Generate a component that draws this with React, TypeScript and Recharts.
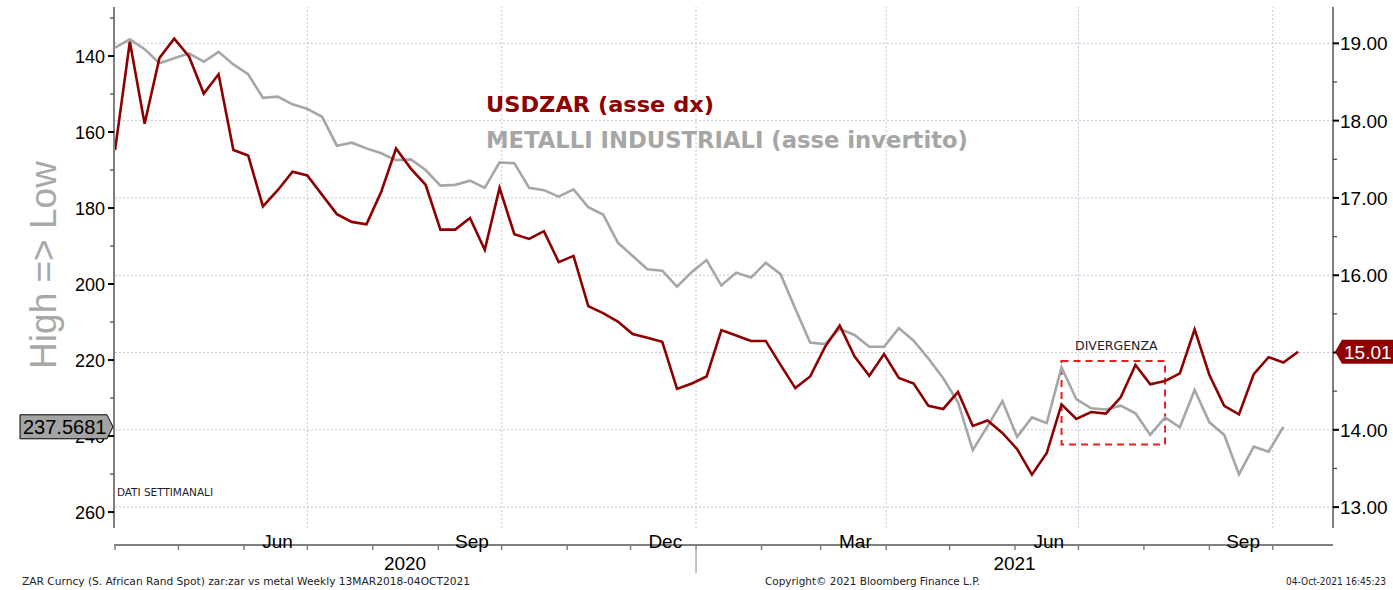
import React from "react";
import { LineChart, Line, XAxis, YAxis, ReferenceLine, ReferenceArea } from "recharts";

const DAY = 86400000;
// first weekly observation (Bloomberg weekly series)
const START = Date.UTC(2020, 3, 1) / DAY;

// USDZAR, right axis
const usdzar = [
  17.62, 19.02, 17.96, 18.81, 19.06, 18.83, 18.35, 18.6, 17.62, 17.55,
  16.89, 17.1, 17.34, 17.29, 17.04, 16.79, 16.69, 16.66, 17.08, 17.64,
  17.38, 17.17, 16.59, 16.59, 16.74, 16.33, 17.13, 16.53, 16.47, 16.57,
  16.17, 16.25, 15.6, 15.51, 15.4, 15.24, 15.19, 15.14, 14.53, 14.6,
  14.69, 15.29, 15.22, 15.15, 15.15, 14.84, 14.54, 14.69, 15.07, 15.35,
  14.95, 14.7, 14.98, 14.67, 14.6, 14.31, 14.27, 14.49, 14.05, 14.12,
  13.96, 13.75, 13.42, 13.7, 14.33, 14.14, 14.23, 14.21, 14.42, 14.84,
  14.59, 14.63, 14.73, 15.3, 14.71, 14.31, 14.2, 14.72, 14.94, 14.87,
  15.01,
];

// industrial metals index, left axis (inverted)
const metals = [
  137.8, 135.6, 138.2, 141.9, 140.6, 139.3, 141.5, 138.9, 142.2, 144.8,
  151.0, 150.7, 152.7, 153.9, 156.0, 163.6, 162.8, 164.3, 165.6, 167.4,
  167.2, 170.0, 174.1, 173.9, 172.8, 174.7, 168.0, 168.2, 174.7, 175.3,
  177.0, 175.1, 179.8, 181.7, 189.1, 192.6, 196.1, 196.5, 200.7, 196.8,
  193.7, 200.4, 197.0, 198.3, 194.4, 197.4, 206.5, 215.4, 215.8, 211.8,
  213.4, 216.5, 216.5, 211.6, 214.9, 219.6, 224.8, 231.1, 243.7, 237.4,
  230.8, 240.2, 235.1, 236.6, 221.9, 230.3, 232.7, 233.0, 232.0, 234.0,
  239.7, 235.1, 237.7, 227.9, 236.4, 239.7, 250.1, 242.8, 244.1, 237.5681,
];

const weeks = usdzar.map((_, i) => START + 7 * i);
const data = weeks.map((t, i) => ({ t, zar: usdzar[i], metal: metals[i] }));

const lastZar = usdzar[usdzar.length - 1];
const lastMetal = metals[metals.length - 1];

const X_MIN = START - 0.5;
const X_MAX = weeks[weeks.length - 1] + 16.5;

const monthStarts = Array.from({ length: 19 }, (_, i) => Date.UTC(2020, 3 + i, 1) / DAY);
const quarterStarts = monthStarts.filter(
  (t) => t > START + 1 && new Date(t * DAY).getUTCMonth() % 3 === 0
);

const monthNames = ["Jun", "Sep", "Dec", "Mar", "Jun", "Sep"];
const monthLabelYM = [
  [2020, 5], [2020, 8], [2020, 11], [2021, 2], [2021, 5], [2021, 8],
];
const monthMids = monthLabelYM.map(
  ([y, m]) => (Date.UTC(y, m, 1) + Date.UTC(y, m + 1, 1)) / 2 / DAY
);

const JAN21 = Date.UTC(2021, 0, 1) / DAY;
const yearTicks = [(X_MIN + JAN21) / 2, JAN21, (JAN21 + X_MAX) / 2];
const yearNames = ["2020", "", "2021"];

const leftTicks = [130, 140, 150, 160, 170, 180, 190, 200, 210, 220, 230, 240, 250, 260, lastMetal];
const rightTicks = [13, 13.5, 14, 14.5, 15, 15.5, 16, 16.5, 17, 17.5, 18, 18.5, 19, lastZar];
const rightGrid = [13, 14, 15, 16, 17, 18, 19];

// divergence box (week 64 -> week 71, USDZAR scale)
const divFrom = weeks[64];
const divTo = weeks[71];
const divLow = 13.81;
const divHigh = 14.89;

const RED = "#8e0000";
const GREY = "#a6a6a6";
const GRID = "#c5c9d9";
const AXIS = "#7f7f7f";
const TICK_FONT = "'Liberation Sans', Arial, sans-serif";
const SMALL_FONT = "'DejaVu Sans Condensed', 'DejaVu Sans', sans-serif";

const LeftTick = (p: any) => {
  const v = p.payload.value;
  if (v === lastMetal) {
    const y = p.y;
    return (
      <g>
        <path
          d={`M20,${y - 12} L107,${y - 12} L113,${y} L107,${y + 12} L20,${y + 12} Z`}
          fill="#a3a3a3"
          stroke="#000"
          strokeWidth={1}
        />
        <text x={23} y={y + 7} fontSize={20} fontFamily={TICK_FONT} fill="#000">
          {v.toFixed(4)}
        </text>
      </g>
    );
  }
  const major = v % 20 === 0;
  return (
    <g>
      <line x1={p.x - (major ? 6 : 4)} x2={p.x} y1={p.y} y2={p.y} stroke={major ? "#000" : "#444"} strokeWidth={major ? 2 : 1.2} />
      {major && (
        <text x={p.x - 9} y={p.y + 6.5} textAnchor="end" fontSize={18} fontFamily={TICK_FONT} fill="#000">
          {v}
        </text>
      )}
    </g>
  );
};

const RightTick = (p: any) => {
  const v = p.payload.value;
  if (v === lastZar) {
    const y = p.y;
    return (
      <g>
        <path
          d={`M${p.x + 2},${y} L${p.x + 9},${y - 12} L1393,${y - 12} L1393,${y + 12} L${p.x + 9},${y + 12} Z`}
          fill={RED}
        />
        <text x={p.x + 11} y={y + 7} fontSize={19} fontFamily={TICK_FONT} fill="#fff">
          {v.toFixed(2)}
        </text>
      </g>
    );
  }
  const major = Number.isInteger(v);
  return (
    <g>
      <line x1={p.x} x2={p.x + (major ? 6 : 4)} y1={p.y} y2={p.y} stroke={major ? "#000" : "#444"} strokeWidth={major ? 2 : 1.2} />
      {major && (
        <text x={p.x + 7} y={p.y + 7} fontSize={19} fontFamily={TICK_FONT} fill="#000">
          {v.toFixed(2)}
        </text>
      )}
    </g>
  );
};

const MonthTick = (p: any) => (
  <line x1={p.x} x2={p.x} y1={p.y} y2={p.y + 5} stroke={AXIS} strokeWidth={1.5} />
);

const LabelTick = (p: any) => (
  <text x={p.x + 2} y={p.y + 20} textAnchor="middle" fontSize={19} fontFamily={TICK_FONT} fill="#000">
    {monthNames[p.index]}
  </text>
);

const YearTick = (p: any) => {
  const name = yearNames[p.index];
  if (!name) {
    return <line x1={p.x} x2={p.x} y1={p.y - 5} y2={p.y + 20} stroke="#b0b0b0" strokeWidth={1.5} />;
  }
  return (
    <text x={p.x} y={p.y + 17} textAnchor="middle" fontSize={19} fontFamily={TICK_FONT} fill="#000">
      {name}
    </text>
  );
};

export default function App() {
  return (
    <div style={{ position: "absolute", left: 0, top: 0, width: 1393, height: 590, background: "#fff" }}>
      <LineChart width={1393} height={590} data={data} margin={{ top: 7, right: 0, left: 0, bottom: 10 }}>
        <XAxis
          xAxisId="m"
          dataKey="t"
          type="number"
          domain={[X_MIN, X_MAX]}
          allowDataOverflow
          ticks={monthStarts}
          interval={0}
          height={8}
          tickSize={0}
          tickMargin={0}
          axisLine={{ stroke: AXIS, strokeWidth: 2 }}
          tickLine={false}
          tick={<MonthTick />}
        />
        <XAxis
          xAxisId="lab"
          dataKey="t"
          type="number"
          domain={[X_MIN, X_MAX]}
          allowDataOverflow
          ticks={monthMids}
          interval={0}
          height={17}
          tickSize={0}
          tickMargin={0}
          axisLine={false}
          tickLine={false}
          tick={<LabelTick />}
        />
        <XAxis
          xAxisId="yr"
          dataKey="t"
          type="number"
          domain={[X_MIN, X_MAX]}
          allowDataOverflow
          ticks={yearTicks}
          interval={0}
          height={27}
          tickSize={0}
          tickMargin={0}
          axisLine={false}
          tickLine={false}
          tick={<YearTick />}
        />
        <YAxis
          yAxisId="l"
          orientation="left"
          width={114}
          reversed
          domain={[127.1, 264.2]}
          allowDataOverflow
          ticks={leftTicks}
          interval={0}
          tickSize={0}
          tickMargin={0}
          axisLine={{ stroke: AXIS, strokeWidth: 2 }}
          tickLine={false}
          tick={<LeftTick />}
        />
        <YAxis
          yAxisId="r"
          orientation="right"
          width={60}
          domain={[12.73, 19.47]}
          allowDataOverflow
          ticks={rightTicks}
          interval={0}
          tickSize={0}
          tickMargin={0}
          axisLine={{ stroke: AXIS, strokeWidth: 2 }}
          tickLine={false}
          tick={<RightTick />}
        />

        {rightGrid.map((v) => (
          <ReferenceLine key={"h" + v} xAxisId="m" yAxisId="r" y={v} stroke={GRID} strokeDasharray="2 2" />
        ))}
        {quarterStarts.map((t) => (
          <ReferenceLine key={"v" + t} xAxisId="m" yAxisId="r" x={t} stroke={GRID} strokeDasharray="2 2" />
        ))}

        <ReferenceArea
          xAxisId="m"
          yAxisId="r"
          x1={divFrom}
          x2={divTo}
          y1={divLow}
          y2={divHigh}
          fill="none"
          fillOpacity={0}
          stroke="#ee1c1c"
          strokeWidth={2}
          strokeDasharray="7 5"
          label={{
            value: "DIVERGENZA",
            position: "top",
            offset: 11,
            fontSize: 12.5,
            fontFamily: "'DejaVu Sans', sans-serif",
            fill: "#1c1c2c",
            dx: 3,
          }}
        />

        <Line
          xAxisId="m"
          yAxisId="l"
          dataKey="metal"
          stroke={GREY}
          strokeWidth={2.6}
          dot={false}
          isAnimationActive={false}
        />
        <Line
          xAxisId="m"
          yAxisId="r"
          dataKey="zar"
          stroke={RED}
          strokeWidth={2.6}
          dot={false}
          isAnimationActive={false}
        />
      </LineChart>

      <svg
        width={1393}
        height={590}
        style={{ position: "absolute", left: 0, top: 0, pointerEvents: "none" }}
      >
        <text
          x={56}
          y={265}
          transform="rotate(-90 56 265)"
          textAnchor="middle"
          fontSize={37}
          fontFamily={TICK_FONT}
          fill="#a8a8a8"
        >
          {"High => Low"}
        </text>
        <text x={486} y={112} fontSize={22} fontWeight="bold" fontFamily="'DejaVu Sans', sans-serif" fill={RED}
          textLength={228} lengthAdjust="spacingAndGlyphs">
          USDZAR (asse dx)
        </text>
        <text x={486} y={148} fontSize={22.5} fontWeight="bold" fontFamily="'DejaVu Sans', sans-serif" fill={GREY}
          textLength={482} lengthAdjust="spacingAndGlyphs">
          METALLI INDUSTRIALI (asse invertito)
        </text>
        <text x={117} y={496} fontSize={11} fontFamily={SMALL_FONT} fill="#1c1c2c"
          textLength={96} lengthAdjust="spacingAndGlyphs">
          DATI SETTIMANALI
        </text>
        <text x={22} y={585} fontSize={11} fontFamily={SMALL_FONT} fill="#222"
          textLength={448} lengthAdjust="spacingAndGlyphs">
          ZAR Curncy (S. African Rand Spot) zar:zar vs metal  Weekly 13MAR2018-04OCT2021
        </text>
        <text x={765} y={585} fontSize={11} fontFamily={SMALL_FONT} fill="#222"
          textLength={215} lengthAdjust="spacingAndGlyphs">
          Copyright© 2021 Bloomberg Finance L.P.
        </text>
        <text x={1386} y={585} textAnchor="end" fontSize={10} fontFamily={SMALL_FONT} fill="#222">
          04-Oct-2021 16:45:23
        </text>
      </svg>
    </div>
  );
}
